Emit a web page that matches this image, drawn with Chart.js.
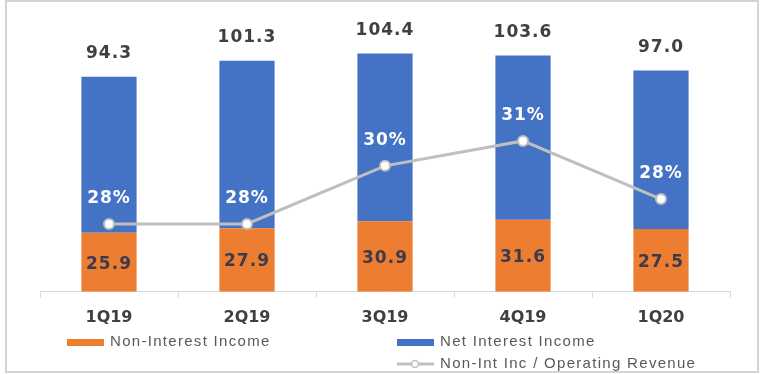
<!DOCTYPE html>
<html>
<head>
<meta charset="utf-8">
<script src="https://cdn.jsdelivr.net/npm/chart.js@4.4.1/dist/chart.umd.min.js"></script>
<style>
  html, body { margin: 0; padding: 0; background: #ffffff; }
  #revenueChart { display: block; }
</style>
</head>
<body>
<canvas id="revenueChart" width="766" height="374"></canvas>
<script>
// quarterly revenue split (THB bn) and the fee-income share of operating revenue
const quarters = ["1Q19", "2Q19", "3Q19", "4Q19", "1Q20"];
const nonInterestIncome = [25.9, 27.9, 30.9, 31.6, 27.5];
const netInterestIncome = [68.4, 73.4, 73.5, 72.0, 69.5];
const nonIntShare = [27.5, 27.5, 29.6, 30.5, 28.4];

const ORANGE = "#ED7D31";
const BLUE = "#4472C4";
const LINE_GREY = "#BFBFBF";
const NUM_FONT = "bold 17px 'DejaVu Sans'";

// value labels: totals above the bars, segment values, share % over the line
const labelPlugin = {
    id: "valueLabels",
    afterDatasetsDraw(chart) {
        const ctx = chart.ctx;
        const orange = chart.getDatasetMeta(0).data;
        const blue = chart.getDatasetMeta(1).data;
        const points = chart.getDatasetMeta(2).data;
        ctx.save();
        ctx.textAlign = "center";
        ctx.textBaseline = "middle";
        ctx.font = NUM_FONT;
        ctx.letterSpacing = "1px";
        quarters.forEach((q, i) => {
            const total = nonInterestIncome[i] + netInterestIncome[i];
            ctx.fillStyle = "#404040";
            ctx.fillText(total.toFixed(1), blue[i].x, blue[i].y - 23);

            ctx.fillStyle = "#3b3b4c";
            ctx.fillText(nonInterestIncome[i].toFixed(1), orange[i].x, (orange[i].y + orange[i].base) / 2 + 2);

            ctx.fillStyle = "#ffffff";
            ctx.fillText(Math.round(nonIntShare[i]) + "%", points[i].x, points[i].y - 25);
        });
        ctx.restore();
    }
};

// frame and the two-column legend under the axis
const framePlugin = {
    id: "frameLegend",
    beforeDraw(chart) {
        const ctx = chart.ctx;
        ctx.save();
        ctx.fillStyle = "#ffffff";
        ctx.fillRect(0, 0, chart.width, chart.height);
        ctx.restore();
    },
    afterDraw(chart) {
        const ctx = chart.ctx;
        ctx.save();
        ctx.strokeStyle = "#d4d4d4";
        ctx.lineWidth = 2;
        ctx.strokeRect(6, 1, 752, 371);

        ctx.font = "15px 'Liberation Sans'";
        ctx.letterSpacing = "1.3px";
        ctx.textBaseline = "middle";

        ctx.fillStyle = ORANGE;
        ctx.fillRect(67, 339, 37, 7);
        ctx.fillStyle = "#595959";
        ctx.fillText("Non-Interest Income", 110, 342);

        ctx.fillStyle = BLUE;
        ctx.fillRect(397, 339, 37, 7);
        ctx.fillStyle = "#595959";
        ctx.fillText("Net Interest Income", 440, 342);

        ctx.strokeStyle = LINE_GREY;
        ctx.lineWidth = 3;
        ctx.beginPath();
        ctx.moveTo(397, 364);
        ctx.lineTo(434, 364);
        ctx.stroke();
        ctx.fillStyle = "#ffffff";
        ctx.lineWidth = 1.5;
        ctx.beginPath();
        ctx.arc(415, 364, 3.5, 0, Math.PI * 2);
        ctx.fill();
        ctx.stroke();
        ctx.fillStyle = "#595959";
        ctx.fillText("Non-Int Inc / Operating Revenue", 440, 364);
        ctx.restore();
    }
};

const ctx = document.getElementById("revenueChart").getContext("2d");
new Chart(ctx, {
    data: {
        labels: quarters,
        datasets: [
            {
                type: "bar",
                label: "Non-Interest Income",
                data: nonInterestIncome,
                backgroundColor: ORANGE,
                yAxisID: "y",
                order: 1,
                categoryPercentage: 1,
                barPercentage: 0.4
            },
            {
                type: "bar",
                label: "Net Interest Income",
                data: netInterestIncome,
                backgroundColor: BLUE,
                yAxisID: "y",
                order: 1,
                categoryPercentage: 1,
                barPercentage: 0.4
            },
            {
                type: "line",
                label: "Non-Int Inc / Operating Revenue",
                data: nonIntShare,
                yAxisID: "y1",
                order: 0,
                borderColor: LINE_GREY,
                borderWidth: 3,
                pointRadius: 5,
                pointBorderWidth: 2,
                pointBackgroundColor: "#ffffff",
                pointBorderColor: LINE_GREY,
                tension: 0
            }
        ]
    },
    options: {
        responsive: false,
        animation: false,
        layout: { padding: { left: 40, right: 36, top: 18, bottom: 37 } },
        plugins: {
            legend: { display: false },
            tooltip: { enabled: false }
        },
        scales: {
            x: {
                stacked: true,
                grid: {
                    offset: true,
                    drawOnChartArea: false,
                    drawTicks: true,
                    tickLength: 6,
                    color: "#d9d9d9"
                },
                border: { color: "#d9d9d9", width: 1 },
                ticks: {
                    color: "#404040",
                    padding: 10,
                    font: { family: "'DejaVu Sans'", size: 16, weight: "bold" }
                }
            },
            y: {
                stacked: true,
                display: false,
                min: 0,
                max: 120
            },
            y1: {
                display: false,
                position: "right",
                min: 25.05,
                max: 34.94
            }
        }
    },
    plugins: [labelPlugin, framePlugin]
});
</script>
</body>
</html>
